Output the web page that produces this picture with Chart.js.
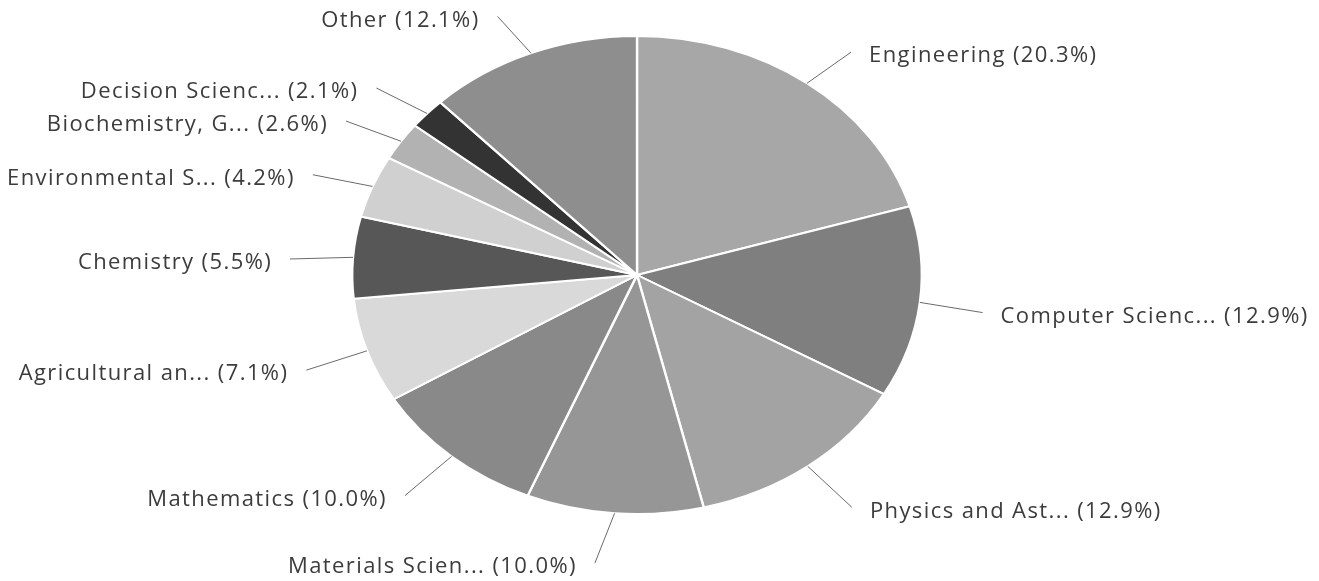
<!DOCTYPE html>
<html>
<head>
<meta charset="utf-8">
<script src="https://cdn.jsdelivr.net/npm/chart.js@4.4.1/dist/chart.umd.min.js"></script>
<style>
  html,body{margin:0;padding:0;background:#fff;}
  #wrap{width:1319px;height:581px;position:relative;}
</style>
</head>
<body>
<div id="wrap"><canvas id="pieChart"></canvas></div>
<script>
// subject areas, share of documents (%)
var categories = ['Engineering','Computer Scienc...','Physics and Ast...','Materials Scien...','Mathematics',
  'Agricultural an...','Chemistry','Environmental S...','Biochemistry, G...','Decision Scienc...','Other'];
var shares = [20.3, 12.9, 12.9, 10.0, 10.0, 7.1, 5.5, 4.2, 2.6, 2.1, 12.1];
var grays = ['#a7a7a7','#7f7f7f','#a3a3a3','#969696','#898989','#d9d9d9','#575757','#d0d0d0','#b2b2b2','#333333','#8e8e8e'];

// the scanned pie is an ellipse, wider than tall
var stretchX = 286/240;

var squash = {
  id:'squash',
  beforeDatasetsDraw:function(chart)
  {
    var a = chart.getDatasetMeta(0).data[0];
    var ctx = chart.ctx;
    ctx.save();
    ctx.translate(a.x, a.y);
    ctx.scale(stretchX, 1);
    ctx.translate(-a.x, -a.y);
  },
  afterDatasetsDraw:function(chart)
  {
    chart.ctx.restore();
  }
};

var sideLabels = {
  id:'sideLabels',
  afterDraw:function(chart)
  {
    var ctx = chart.ctx;
    var arcs = chart.getDatasetMeta(0).data;
    ctx.save();
    ctx.font = '22px "Open Sans"';
    ctx.letterSpacing = '1.4px';
    ctx.textBaseline = 'middle';
    for(var i=0;i<arcs.length;i++)
    {
      var a = arcs[i];
      var mid = (a.startAngle + a.endAngle)/2;
      var c = Math.cos(mid), s = Math.sin(mid);
      var R = a.outerRadius;
      var x0 = a.x + c*R*stretchX, y0 = a.y + s*R;
      var right = c >= 0;
      var lx = x0 + (right ? 1 : -1)*(34 + 47*Math.abs(c));
      var ly = a.y + s*(R + 45) + 9;
      var ex = lx + (right ? -18 : 18);
      ctx.strokeStyle = '#6a6a6a';
      ctx.lineWidth = 1;
      ctx.beginPath();
      ctx.moveTo(x0, y0);
      ctx.lineTo(ex, ly - 4);
      ctx.stroke();
      ctx.fillStyle = '#3c3c3c';
      ctx.textAlign = right ? 'left' : 'right';
      ctx.fillText(categories[i] + ' (' + shares[i].toFixed(1) + '%)', lx, ly);
    }
    ctx.restore();
  }
};

const CHART = document.getElementById('pieChart');
var pie = new Chart(CHART,
{
  type:'pie',
  data:{
    labels:categories,
    datasets:[{
      data:shares,
      backgroundColor:grays,
      borderColor:'#ffffff',
      borderWidth:2
    }]
  },
  options:{
    responsive:true,
    maintainAspectRatio:false,
    animation:false,
    layout:{padding:{top:35,bottom:66,left:397,right:442}},
    plugins:{legend:{display:false},tooltip:{enabled:false}}
  },
  plugins:[squash, sideLabels]
});
</script>
</body>
</html>
